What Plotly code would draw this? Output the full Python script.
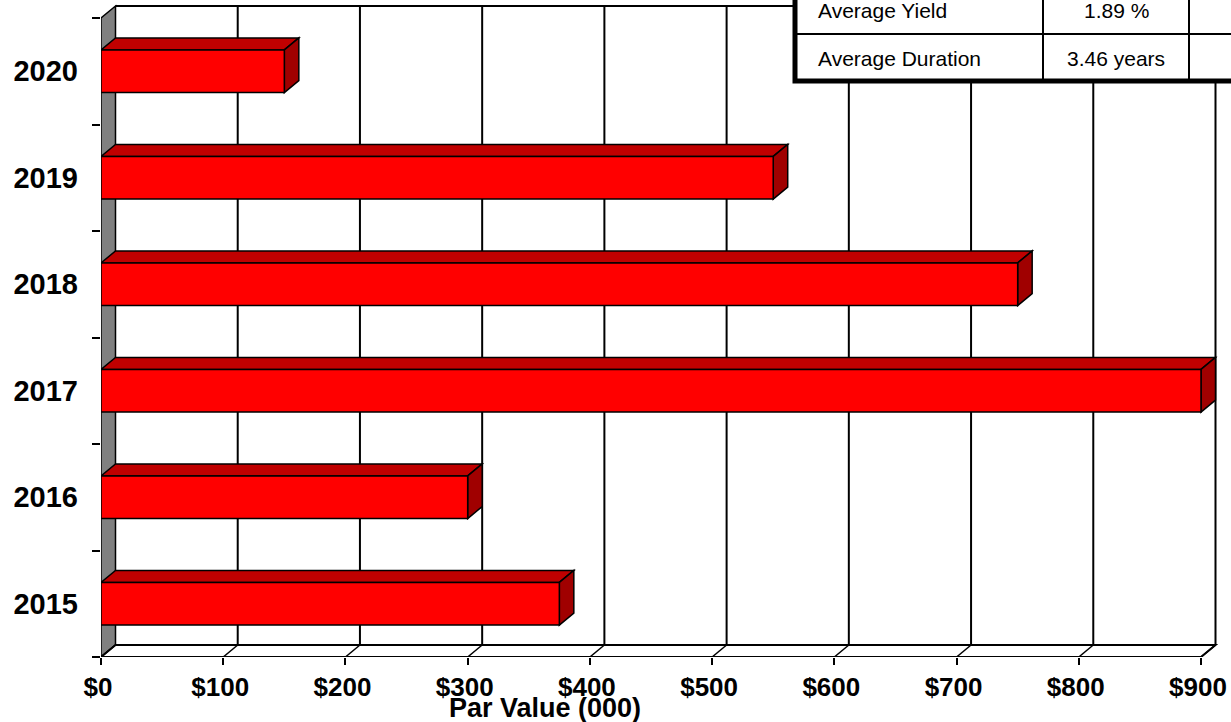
import plotly.graph_objects as go

# ---------------- data ----------------
years = ["2015", "2016", "2017", "2018", "2019", "2020"]
par_values = [375, 300, 900, 750, 550, 150]
x_tick_values = [0, 100, 200, 300, 400, 500, 600, 700, 800, 900]
x_tick_labels = ["$0", "$100", "$200", "$300", "$400", "$500", "$600", "$700", "$800", "$900"]
table_labels = ["Average Yield", "Average Duration"]
table_values = ["1.89 %", "3.46 years"]
x_title = "Par Value (000)"

# ---------------- layout constants ----------------
W, H = 1231, 722
ML, MR, MT, MB = 101, 0, 0, 65
PLOT_W = W - ML - MR
PLOT_H = H - MT - MB
PX_PER_UNIT = 1100 / 900.0
X_MAX = PLOT_W / PX_PER_UNIT
CAT_PX = 106.5
Y_MIN = -0.5
Y_MAX = Y_MIN + PLOT_H / CAT_PX
DX = 14.5 / PX_PER_UNIT      # depth offset in data units (x)
DY = 12.0 / CAT_PX           # depth offset in category units (y)
BAR_W = 0.4
FONT = "Liberation Sans, Arial, Helvetica, sans-serif"
AX_MAX = max(x_tick_values)
N = len(years)

RED = "#FF0000"
RED_TOP = "#C00000"
RED_SIDE = "#A00000"
GREY = "#808080"

shapes = []

def poly(pts):
    return "M " + " L ".join(f"{x},{y}" for x, y in pts) + " Z"

# left (grey) wall
y_lo, y_hi = -0.5, N - 0.5
shapes.append(dict(type="path", xref="x", yref="y", layer="below",
                   path=poly([(0, y_lo), (DX, y_lo + DY), (DX, y_hi + DY), (0, y_hi)]),
                   fillcolor=GREY, line=dict(color="black", width=1.5)))
# floor
shapes.append(dict(type="path", xref="x", yref="y", layer="below",
                   path=poly([(0, y_lo), (AX_MAX, y_lo), (AX_MAX + DX, y_lo + DY), (DX, y_lo + DY)]),
                   fillcolor="white", line=dict(color="black", width=2)))
# back wall top edge
shapes.append(dict(type="line", xref="x", yref="y", layer="below",
                   x0=DX, x1=AX_MAX + DX, y0=y_hi + DY, y1=y_hi + DY,
                   line=dict(color="black", width=2)))
# back gridlines + floor diagonals
for v in x_tick_values:
    if v > 0:
        shapes.append(dict(type="line", xref="x", yref="y", layer="below",
                           x0=v + DX, x1=v + DX, y0=y_lo + DY, y1=y_hi + DY,
                           line=dict(color="black", width=2)))
    shapes.append(dict(type="line", xref="x", yref="y", layer="below",
                       x0=v, x1=v + DX, y0=y_lo, y1=y_lo + DY,
                       line=dict(color="black", width=1.5)))

# bar top & side faces
for i, v in enumerate(par_values):
    t = i + BAR_W / 2
    b = i - BAR_W / 2
    shapes.append(dict(type="path", xref="x", yref="y", layer="below",
                       path=poly([(0, t), (DX, t + DY), (v + DX, t + DY), (v, t)]),
                       fillcolor=RED_TOP, line=dict(color="black", width=1.5)))
    shapes.append(dict(type="path", xref="x", yref="y", layer="below",
                       path=poly([(v, b), (v, t), (v + DX, t + DY), (v + DX, b + DY)]),
                       fillcolor=RED_SIDE, line=dict(color="black", width=1.5)))

# ---------------- table (paper coords) ----------------
def px_x(px):
    return (px - ML) / PLOT_W

def px_y(py):
    return (H - MB - py) / PLOT_H

T_LEFT, T_RIGHT, T_TOP, T_BOT = 795, 1245, -13, 81
ROW_SEP = 34
COLS = [1043, 1189]
shapes.append(dict(type="rect", xref="paper", yref="paper", layer="above",
                   x0=px_x(T_LEFT), x1=px_x(T_RIGHT), y0=px_y(T_BOT), y1=px_y(T_TOP),
                   fillcolor="white", line=dict(color="black", width=5)))
shapes.append(dict(type="line", xref="paper", yref="paper", layer="above",
                   x0=px_x(T_LEFT), x1=px_x(T_RIGHT), y0=px_y(ROW_SEP), y1=px_y(ROW_SEP),
                   line=dict(color="black", width=2)))
for cx in COLS:
    shapes.append(dict(type="line", xref="paper", yref="paper", layer="above",
                       x0=px_x(cx), x1=px_x(cx), y0=px_y(T_BOT), y1=px_y(T_TOP),
                       line=dict(color="black", width=2)))

annotations = []
row_centers = [10.5, 58]
for lab, val, yc in zip(table_labels, table_values, row_centers):
    annotations.append(dict(xref="paper", yref="paper", x=px_x(816), y=px_y(yc),
                            xanchor="left", yanchor="middle", showarrow=False, text=lab,
                            font=dict(family=FONT, size=21, color="black")))
    annotations.append(dict(xref="paper", yref="paper", x=px_x((COLS[0] + COLS[1]) / 2), y=px_y(yc),
                            xanchor="center", yanchor="middle", showarrow=False, text=val,
                            font=dict(family=FONT, size=21, color="black")))

annotations.append(dict(xref="paper", yref="paper", x=px_x(545), y=px_y(708),
                        xanchor="center", yanchor="middle", showarrow=False, text=x_title,
                        font=dict(family=FONT, size=27, color="black", weight="bold")))

# ---------------- figure ----------------
fig = go.Figure()
fig.add_trace(go.Bar(
    y=years, x=par_values, orientation="h", width=BAR_W,
    marker=dict(color=RED, line=dict(color="black", width=1.5)),
    hoverinfo="x+y", showlegend=False,
))

fig.update_layout(
    width=W, height=H,
    margin=dict(l=ML, r=MR, t=MT, b=MB, pad=0),
    paper_bgcolor="white", plot_bgcolor="white",
    shapes=shapes, annotations=annotations,
    showlegend=False,
    font=dict(family=FONT, color="black"),
    xaxis=dict(range=[0, X_MAX], tickvals=x_tick_values, ticktext=x_tick_labels,
               showgrid=False, zeroline=False, showline=False,
               ticks="outside", ticklen=7, tickwidth=1.5, tickcolor="black",
               ticklabelshift=-3,
               tickfont=dict(family=FONT, size=26, color="black", weight="bold")),
    yaxis=dict(type="category", categoryorder="array", categoryarray=years,
               range=[Y_MIN, Y_MAX], tickson="boundaries",
               showgrid=False, zeroline=False, showline=False,
               ticks="outside", ticklen=8, tickwidth=1.5, tickcolor="black",
               ticklabelstandoff=22,
               tickfont=dict(family=FONT, size=29, color="black", weight="bold")),
)

fig.write_html("out.html")
